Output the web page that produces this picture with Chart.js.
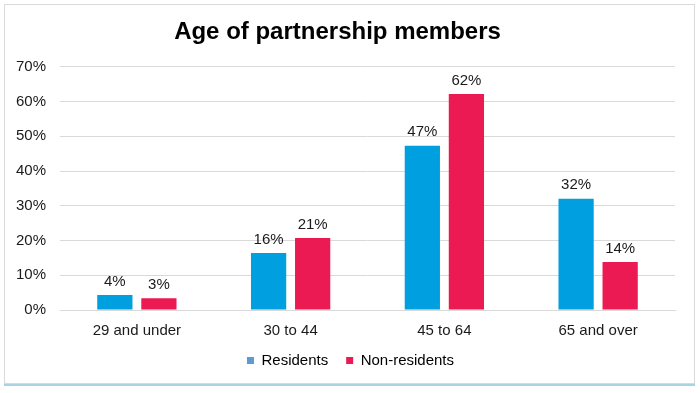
<!DOCTYPE html>
<html>
<head>
<meta charset="utf-8">
<script src="https://cdn.jsdelivr.net/npm/chart.js@4"></script>
<style>
  html, body { margin: 0; padding: 0; background: #fff; }
  #wrap { position: relative; width: 700px; height: 393px; }
  #frame { position: absolute; left: 4px; top: 4px; width: 689px; height: 378px;
           border: 1px solid #d9d9d9; box-shadow: 0 2px 0 #a9d3e3; }
  canvas { position: absolute; left: 0; top: 0; }
</style>
</head>
<body>
<div id="wrap">
  <div id="frame"></div>
  <canvas id="barChart" width="700" height="393"></canvas>
</div>
<script>
// chart values
const categories = ['29 and under', '30 to 44', '45 to 64', '65 and over'];
const residents = [4.3, 16.4, 47.3, 32.0];
const nonResidents = [3.4, 20.7, 62.2, 13.8];
const yTicks = [0, 10, 20, 30, 40, 50, 60, 70];

const FONT = "'Liberation Sans', Arial, sans-serif";

// draws the value above each bar
const barLabels = {
  id: 'barLabels',
  afterDatasetsDraw(chart) {
    const ctx = chart.ctx;
    ctx.save();
    ctx.font = '15px ' + FONT;
    ctx.fillStyle = '#1a1a1a';
    ctx.textAlign = 'center';
    ctx.textBaseline = 'bottom';
    chart.data.datasets.forEach((ds, i) => {
      chart.getDatasetMeta(i).data.forEach((bar, j) => {
        ctx.fillText(Math.round(ds.data[j]) + '%', bar.x, bar.y - 6);
      });
    });
    ctx.restore();
  }
};

// nudge the legend so it is centred on the page and sits a bit higher
const legendShift = {
  id: 'legendShift',
  afterLayout(chart) {
    const lg = chart.legend;
    lg.left += 13;
    lg.right += 13;
    lg.top -= 9;
    lg.bottom -= 9;
  }
};

const ctx = document.getElementById('barChart').getContext('2d');
new Chart(ctx, {
  type: 'bar',
  data: {
    labels: categories,
    datasets: [
      {
        label: 'Residents',
        data: residents,
        backgroundColor: '#009fdf',
        legendColor: '#5b9bd5'
      },
      {
        label: 'Non-residents',
        data: nonResidents,
        backgroundColor: '#ec1a52',
        legendColor: '#ec1a52'
      }
    ]
  },
  options: {
    responsive: false,
    animation: false,
    categoryPercentage: 0.573,
    barPercentage: 0.8,
    layout: {
      padding: { left: 0, right: 25, top: 0, bottom: 6 }
    },
    plugins: {
      title: {
        display: true,
        text: 'Age of partnership members',
        color: '#000',
        font: { family: FONT, size: 24, weight: 'bold' },
        padding: { top: 18, bottom: 20 }
      },
      legend: {
        position: 'bottom',
        labels: {
          color: '#1a1a1a',
          font: { family: FONT, size: 15 },
          boxWidth: 7,
          boxHeight: 7,
          padding: 18,
          generateLabels: (chart) => chart.data.datasets.map((ds, i) => ({
            text: ds.label,
            fillStyle: ds.legendColor,
            strokeStyle: ds.legendColor,
            lineWidth: 0,
            datasetIndex: i
          }))
        }
      },
      tooltip: { enabled: false }
    },
    scales: {
      x: {
        grid: { display: false },
        border: { color: '#d9d9d9' },
        ticks: { color: '#1a1a1a', font: { family: FONT, size: 15 }, padding: 4 }
      },
      y: {
        min: 0,
        max: 70,
        afterFit: (scale) => { scale.width = 60; },
        afterBuildTicks: (scale) => { scale.ticks = yTicks.map(v => ({ value: v })); },
        border: { display: false },
        grid: { color: '#d9d9d9', drawTicks: false },
        ticks: {
          color: '#1a1a1a',
          font: { family: FONT, size: 15 },
          padding: 14,
          callback: (v) => v + '%'
        }
      }
    }
  },
  plugins: [barLabels, legendShift]
});
</script>
</body>
</html>
